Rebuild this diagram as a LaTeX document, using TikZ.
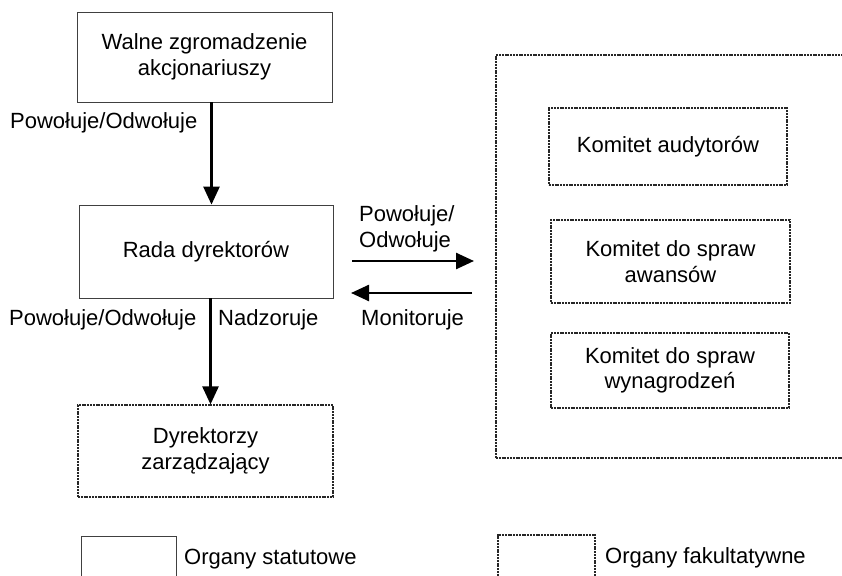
\documentclass[tikz,border=0pt]{standalone}
\usepackage{fontspec}
\setmainfont{Liberation Sans}
\usetikzlibrary{arrows.meta}
\begin{document}
\begin{tikzpicture}[x=1pt,y=-1pt,
  every node/.style={font=\fontsize{22}{25.5}\selectfont, inner sep=0pt},
  solidbox/.style={draw=black!75, line width=0.8pt, rectangle},
  dotbox/.style={draw=black!85, line width=1.2pt, dash pattern=on 2pt off 0.8pt, rectangle},
  arr/.style={line width=2.5pt, -{Triangle[length=18pt,width=16pt]}},
  lbl/.style={anchor=west, align=left}]
\useasboundingbox (0,0) rectangle (842,575);

% statutory bodies
\node[solidbox, minimum width=255pt, minimum height=90pt, align=center]
  (top) at (204.5,57) {Walne zgromadzenie\\akcjonariuszy};
\node[solidbox, minimum width=254pt, minimum height=93pt]
  (rada) at (206,251.5) {Rada dyrektorów};
\node[dotbox, minimum width=255pt, minimum height=92pt, align=center]
  (dyr) at (205.5,451) {Dyrektorzy\\zarządzający};

% committees
\node[dotbox, minimum width=354pt, minimum height=403pt]
  (comm) at (673,256.5) {};
\node[dotbox, minimum width=238pt, minimum height=77pt]
  (k1) at (668,146.5) {Komitet audytorów};
\node[dotbox, minimum width=239pt, minimum height=83pt, align=center]
  (k2) at (670.5,261.5) {Komitet do spraw\\awansów};
\node[dotbox, minimum width=238pt, minimum height=75pt, align=center]
  (k3) at (670,370.5) {Komitet do spraw\\wynagrodzeń};

% vertical connectors
\coordinate (ax1) at (211.5,0);
\coordinate (ax2) at (210.5,0);
\draw[arr] (top.south -| ax1) -- (rada.north -| ax1);
\draw[arr] (rada.south -| ax2) -- (dyr.north -| ax2);

% horizontal connectors between the board and the committees
\coordinate (r1) at (352,261);
\coordinate (c1) at (474,261);
\coordinate (c2) at (472,293);
\coordinate (r2) at (351,293);
\draw[arr] (r1) -- (c1);
\draw[arr] (c2) -- (r2);

% connector labels
\node[lbl] (l1) at (10,123) {Powołuje/Odwołuje};
\node[lbl] (l2) at (9,320) {Powołuje/Odwołuje};
\node[lbl] (l3) at (218,320) {Nadzoruje};
\node[lbl] (l4) at (359,229) {Powołuje/\\Odwołuje};
\node[lbl] (l5) at (361,320) {Monitoruje};

% legend
\node[solidbox, minimum width=95pt, minimum height=50pt] (leg1) at (128.5,561) {};
\node[lbl] (lt1) at (184,559) {Organy statutowe};
\node[dotbox, minimum width=97pt, minimum height=50pt] (leg2) at (546.5,560) {};
\node[lbl] (lt2) at (605,558) {Organy fakultatywne};
\end{tikzpicture}
\end{document}
